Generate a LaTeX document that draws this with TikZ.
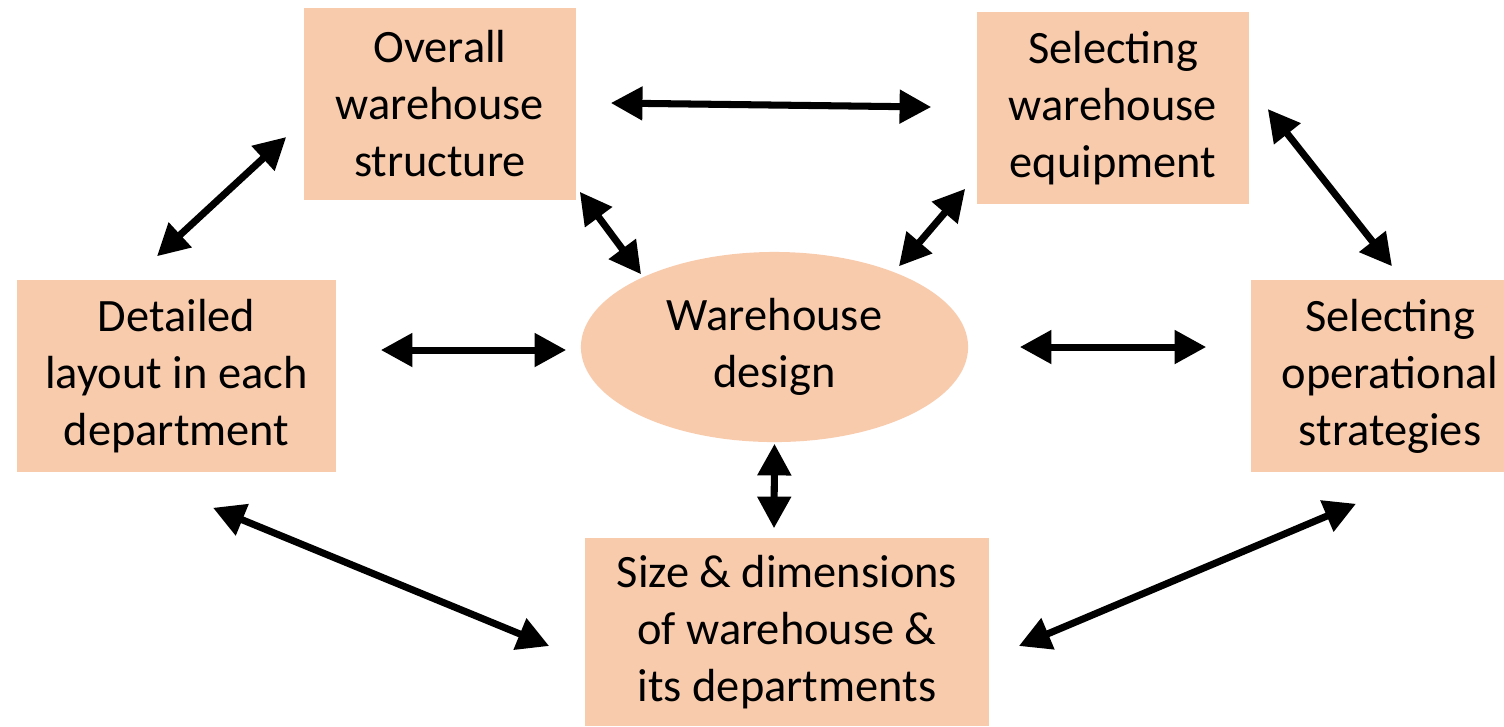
\documentclass[tikz,border=0pt]{standalone}
\usepackage{fontspec}
\setmainfont{Carlito}
\usetikzlibrary{shapes,arrows.meta}
\definecolor{peach}{HTML}{F8CBAD}

\begin{document}
\begin{tikzpicture}[x=0.01cm,y=-0.01cm,
  box/.style={fill=peach,inner sep=0pt,align=center,font=\fontsize{13.2}{16.2}\selectfont},
  oval/.style={box,ellipse},
  arr/.style={line width=2pt,{Triangle[length=9pt,width=9.2pt]}-{Triangle[length=9pt,width=9.2pt]}}]
  \useasboundingbox (0,0) rectangle (1504,726);

  % The six parts of the design
  \node[oval,minimum width=3.87cm,minimum height=1.9cm] (wd) at (774.5,347) {Warehouse\\design};
  \node[box,minimum width=2.72cm,minimum height=1.92cm] (ows) at (440,104) {Overall\\warehouse\\structure};
  \node[box,minimum width=2.72cm,minimum height=1.92cm] (equip) at (1113,108) {Selecting\\warehouse\\equipment};
  \node[box,minimum width=3.19cm,minimum height=1.92cm] (dl) at (176.5,376) {Detailed\\layout in each\\department};
  % runs off the right edge of the page
  \node[box,minimum width=2.78cm,minimum height=1.92cm] (ops) at (1390,376) {Selecting\\operational\\strategies};
  \node[box,minimum width=4.04cm,minimum height=1.88cm] (size) at (787,632) {Size \& dimensions\\of warehouse \&\\its departments};

  % Arrows round the outside
  \draw[arr] ([shift={(34,-1)}]ows.east) -- ([shift={(-45,-1)}]equip.west);
  \draw[arr] ([shift={(-19.5,-23)}]dl.north) -- ([shift={(-17,33)}]ows.west);
  \draw[arr] ([shift={(18,1)}]equip.east) -- ([shift={(2,-13)}]ops.north);
  \draw[arr] ([shift={(36.5,35)}]dl.south) -- ([shift={(-35,14)}]size.west);
  \draw[arr] ([shift={(-34,31)}]ops.south) -- ([shift={(29,14)}]size.east);

  % Arrows to the centre
  \draw[arr] ([shift={(3,-9)}]ows.south east) -- ([shift={(4,-5)}]wd.north west);
  \draw[arr] ([shift={(-13,-13)}]wd.north east) -- ([shift={(-11,-16)}]equip.south west);
  \draw[arr] ([shift={(44,-26)}]dl.east) -- ([shift={(-14,3)}]wd.west);
  \draw[arr] ([shift={(51,0)}]wd.east) -- ([shift={(-44,-29)}]ops.west);
  \draw[arr] ([shift={(0,1)}]wd.south) -- ([shift={(-13,-9)}]size.north);
\end{tikzpicture}
\end{document}
